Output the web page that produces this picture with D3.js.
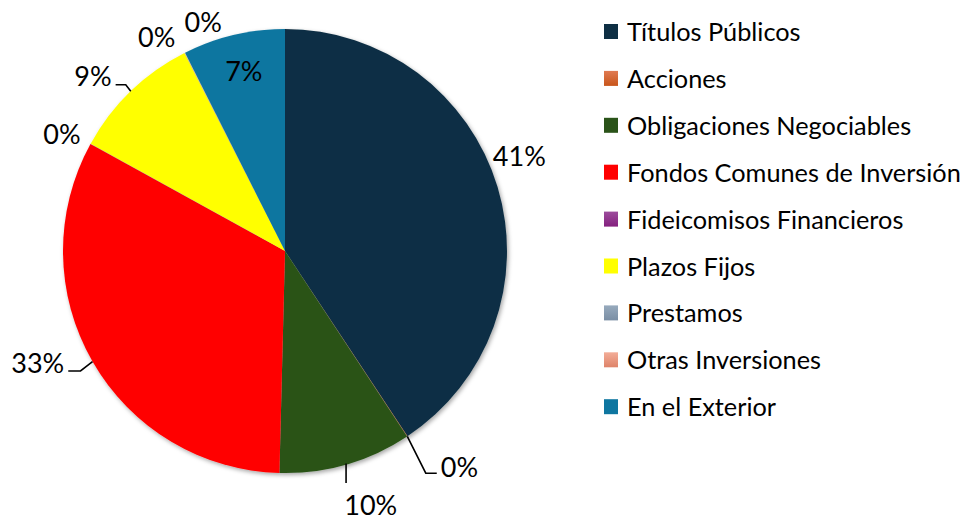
<!DOCTYPE html>
<html><head><meta charset="utf-8">
<script src="https://cdn.jsdelivr.net/npm/d3@7"></script>
<style>html,body{margin:0;padding:0;background:#fff;}svg{display:block;}</style>
</head><body>
<svg id="chart" width="970" height="523"></svg>
<script>
// ---- data ----
const categories = ["Títulos Públicos","Acciones","Obligaciones Negociables","Fondos Comunes de Inversión","Fideicomisos Financieros","Plazos Fijos","Prestamos","Otras Inversiones","En el Exterior"];
const shares = [40.7, 0.03, 9.67, 32.6, 0.03, 9.49, 0.02, 0.03, 7.43];
const labels = ["41%","0%","10%","33%","0%","9%","0%","0%","7%"];

// ---- styles / layout ----
const colorTop = ["#0E2F44","#E07A52","#2A5319","#FF0000","#9C4C9C","#FFFF00","#97AABD","#F3AD98","#0E76A0"];
const colorBot = ["#0E2F44","#C8551A","#2A5319","#FF0000","#84207E","#FFFF00","#7A8EA4","#DE8369","#0E76A0"];
// label placement: angular shift (deg) from slice mid-angle, radius from centre
const labelShift = [-5.4,-5.6,-2.7,5.7,-1.1,-3.6,-4.0,7.2,0.5];
const labelRad = [253,277,268,271,252,260,250,244,185];
const leader = [null,"elbowR","vert","elbowL",null,"elbowL",null,null,null];

const svg = d3.select("#chart");
const cx = 285, cy = 251, R = 222;
const font = "Lato, 'Open Sans', sans-serif";

const defs = svg.append("defs");
const f = defs.append("filter").attr("id","sh").attr("x","-10%").attr("y","-10%").attr("width","120%").attr("height","120%");
f.append("feDropShadow").attr("dx",1.5).attr("dy",2).attr("stdDeviation",2.2).attr("flood-color","#000").attr("flood-opacity",0.35);
categories.forEach((c,i)=>{
  const g = defs.append("linearGradient").attr("id","g"+i).attr("x1",0).attr("y1",0).attr("x2",0).attr("y2",1);
  g.append("stop").attr("offset","0%").attr("stop-color",colorTop[i]);
  g.append("stop").attr("offset","100%").attr("stop-color",colorBot[i]);
});

const pie = d3.pie().sort(null).value(d=>d);
const arcs = pie(shares);
const arc = d3.arc().innerRadius(0).outerRadius(R);

const g = svg.append("g").attr("transform",`translate(${cx},${cy})`);
g.append("g").attr("filter","url(#sh)").selectAll("path").data(arcs).join("path")
  .attr("d",arc).attr("fill",(d,i)=>`url(#g${i})`);

const toRad = Math.PI/180;
const polar = (a,r)=>[r*Math.sin(a), -r*Math.cos(a)];

arcs.forEach((d,i)=>{
  const mid = (d.startAngle+d.endAngle)/2;
  const la = mid + labelShift[i]*toRad;
  const [lx,ly] = polar(la, labelRad[i]);
  const t = g.append("text").attr("x",lx).attr("y",ly).attr("text-anchor","middle")
    .attr("dominant-baseline","central").attr("font-family",font).attr("font-size",27).attr("fill","#000").text(labels[i]);
  const [ax,ay] = polar(mid, R);
  if (leader[i]) {
    const bb = t.node().getBBox();
    let pts;
    if (leader[i]==="elbowR") {
      const yy = ly+7; const xe = bb.x-4;
      pts = [[ax,ay],[xe-11,yy],[xe,yy]];
    } else if (leader[i]==="elbowL") {
      const yy = ly+9; const xe = bb.x+bb.width+4;
      pts = (ay<0) ? [[ax,ay],[ax-5,yy],[xe,yy]] : [[ax,ay],[ax-12,yy],[xe,yy]];
    } else {
      pts = [[ax,ay-1],[ax,bb.y+bb.height*0.5-22]];
    }
    g.append("path").attr("d",d3.line()(pts)).attr("fill","none").attr("stroke","#000").attr("stroke-width",1.6);
  }
});

// legend
const lg = svg.append("g");
const ly0 = 31, lstep = 46.9;
categories.forEach((c,i)=>{
  const y = ly0 + i*lstep;
  lg.append("rect").attr("x",604).attr("y",y-7).attr("width",14).attr("height",15).attr("fill",`url(#g${i})`);
  lg.append("text").attr("x",627).attr("y",y).attr("dominant-baseline","central")
    .attr("font-family",font).attr("font-size",25.3).attr("fill","#000").text(c);
});
</script>
</body></html>
